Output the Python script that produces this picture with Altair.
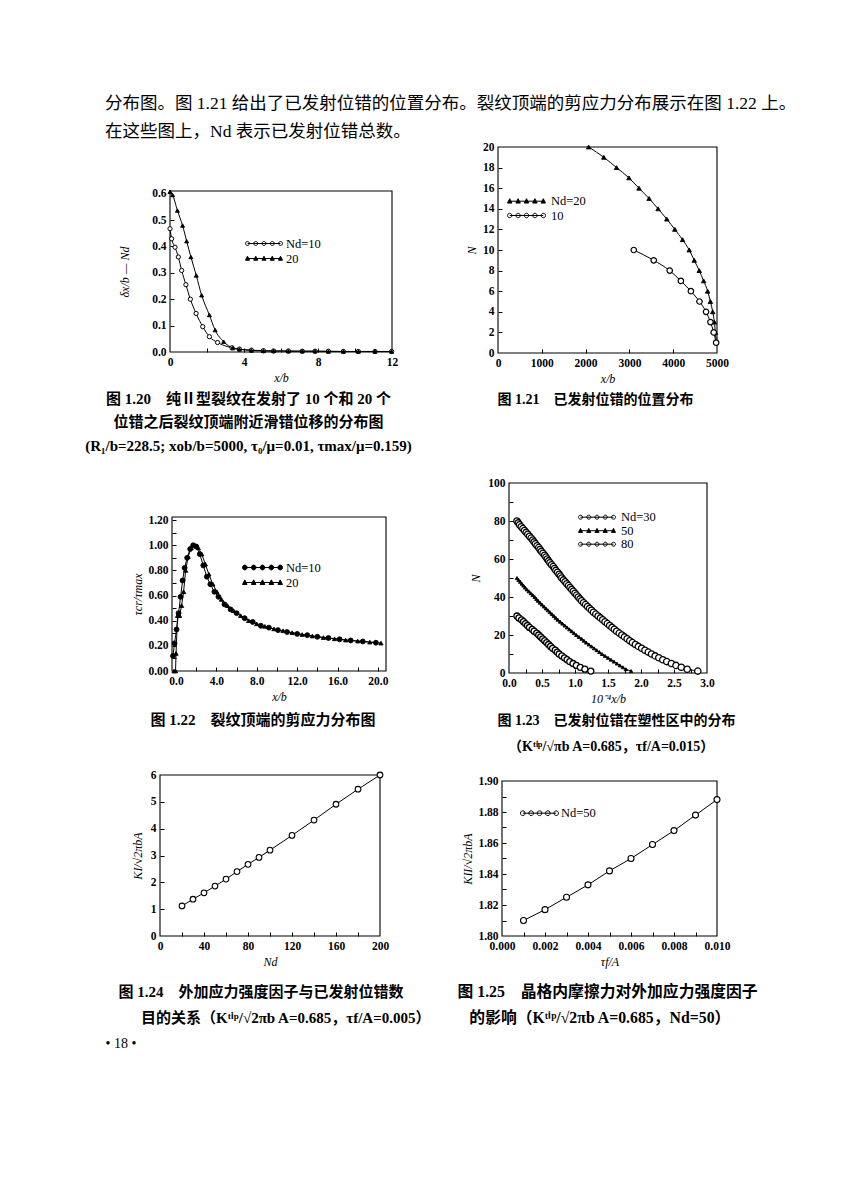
import altair as alt
import pandas as pd

W, H = 844, 1188
SERIF = "Liberation Serif"
MIXED = "Liberation Serif, Noto Sans CJK SC"
NB = "\u00a0"
ZW = "\u200b"
FW = "\u3000"

# ---------------- text ----------------
para_lines = ["分布图。图 1.21 给出了已发射位错的位置分布。裂纹顶端的剪应力分布展示在图 1.22 上。",
              "在这些图上，Nd 表示已发射位错总数。"]
cap120 = ["图 1.20　纯Ⅱ型裂纹在发射了 10 个和 20 个",
          "位错之后裂纹顶端附近滑错位移的分布图",
          "(R₁/b=228.5; xob/b=5000, τ₀/μ=0.01, τmax/μ=0.159)"]
cap121 = ["图 1.21　已发射位错的位置分布"]
cap122 = ["图 1.22　裂纹顶端的剪应力分布图"]
cap123 = ["图 1.23　已发射位错在塑性区中的分布",
          ZW + NB * 3 + "（Kᵗⁱᵖ/√πb A=0.685，τf/A=0.015）"]
cap124 = ["图 1.24　外加应力强度因子与已发射位错数",
          ZW + FW + NB * 2 + "目的关系（Kᵗⁱᵖ/√2πb A=0.685，τf/A=0.005）"]
cap125 = ["图 1.25　晶格内摩擦力对外加应力强度因子",
          ZW + NB * 3 + "的影响（Kᵗⁱᵖ/√2πb A=0.685，Nd=50）"]
page_no = "• 18 •"

# ---------------- data ----------------
# Fig 1.20  slip displacement vs x/b
f20_nd10_x = [0.0, 0.09, 0.27, 0.45, 0.63, 0.86, 1.10, 1.41, 1.77, 2.13, 2.57, 3.35, 3.75, 4.40,
              5.05, 5.60, 6.40, 7.15, 7.84, 8.56, 9.37, 10.18, 11.08, 11.98]
f20_nd10_y = [0.467, 0.429, 0.397, 0.360, 0.309, 0.255, 0.200, 0.146, 0.096, 0.058, 0.036, 0.016,
              0.011, 0.007, 0.005, 0.004, 0.004, 0.003, 0.003, 0.003, 0.002, 0.002, 0.002, 0.002]
f20_nd20_x = [0.0, 0.14, 0.40, 0.68, 0.90, 1.13, 1.42, 1.71, 2.13, 2.44, 2.90, 3.40, 3.75, 4.40,
              5.05, 5.60, 6.40, 7.15, 7.84, 8.56, 9.37, 10.18, 11.08, 11.98]
f20_nd20_y = [0.607, 0.595, 0.536, 0.479, 0.420, 0.360, 0.290, 0.215, 0.140, 0.083, 0.039, 0.015,
              0.010, 0.006, 0.004, 0.004, 0.003, 0.003, 0.003, 0.002, 0.002, 0.002, 0.002, 0.002]

# Fig 1.21  dislocation positions
f21_nd20_x = [2070, 2416, 2707, 2990, 3219, 3449, 3655, 3854, 4037, 4214, 4366, 4480, 4595, 4695,
              4787, 4849, 4902, 4940, 4963, 4985]
f21_nd20_n = [20, 19, 18, 17, 16, 15, 14, 13, 12, 11, 10, 9, 8, 7, 6, 5, 4, 3, 2, 1]
f21_nd10_x = [3100, 3555, 3920, 4175, 4404, 4600, 4750, 4850, 4925, 4980]
f21_nd10_n = [10, 9, 8, 7, 6, 5, 4, 3, 2, 1]

# Fig 1.22  shear stress at crack tip
f22_nd10_x = [-0.30, -0.15, 0.05, 0.25, 0.45, 0.65, 0.85, 1.10, 1.40, 1.70, 2.00, 2.35, 2.70, 3.05,
              3.40, 3.80, 4.20, 4.80, 5.40, 6.00, 6.80, 7.60, 8.40, 9.20, 10.10, 11.00, 12.00, 13.00,
              14.00, 15.10, 16.20, 17.30, 18.50, 19.80]
f22_nd10_y = [0.12, 0.22, 0.33, 0.46, 0.59, 0.72, 0.82, 0.90, 0.97, 1.00, 0.99, 0.93, 0.84, 0.75,
              0.69, 0.63, 0.59, 0.53, 0.49, 0.46, 0.42, 0.39, 0.36, 0.345, 0.325, 0.31, 0.295, 0.285,
              0.272, 0.262, 0.252, 0.243, 0.235, 0.225]
f22_nd20_x = [-0.20, -0.05, 0.00, 0.15, 0.35, 0.55, 0.75, 0.95, 1.20, 1.50, 1.85, 2.20, 2.55, 2.90,
              3.25, 3.65, 4.05, 4.50, 5.10, 5.70, 6.40, 7.20, 8.00, 8.80, 9.70, 10.60, 11.50, 12.50,
              13.50, 14.60, 15.70, 16.80, 18.00, 19.20, 20.30]
f22_nd20_y = [0.00, 0.00, 0.14, 0.44, 0.44, 0.52, 0.63, 0.80, 0.91, 0.98, 1.00, 0.98, 0.93, 0.85,
              0.77, 0.69, 0.63, 0.57, 0.52, 0.48, 0.44, 0.40, 0.375, 0.355, 0.335, 0.32, 0.305, 0.29,
              0.278, 0.266, 0.256, 0.246, 0.238, 0.23, 0.222]

# Fig 1.23  dislocations in plastic zone (one marker per dislocation)
f23_nd30_x = [0.12, 0.15, 0.19, 0.22, 0.25, 0.28, 0.31, 0.35, 0.38, 0.42, 0.45, 0.48, 0.51, 0.54,
              0.57, 0.60, 0.63, 0.66, 0.70, 0.73, 0.76, 0.80, 0.84, 0.88, 0.92, 0.97, 1.02, 1.08,
              1.15, 1.24]
f23_nd30_n = [30, 29, 28, 27, 26, 25, 24, 23, 22, 21, 20, 19, 18, 17, 16, 15, 14, 13, 12, 11, 10, 9,
              8, 7, 6, 5, 4, 3, 2, 1]
f23_nd50_x = [0.12, 0.145, 0.17, 0.195, 0.22, 0.245, 0.27, 0.30, 0.33, 0.36, 0.39, 0.415, 0.44,
              0.47, 0.50, 0.53, 0.56, 0.59, 0.62, 0.65, 0.68, 0.71, 0.74, 0.775, 0.81, 0.845, 0.88,
              0.915, 0.95, 0.985, 1.02, 1.06, 1.10, 1.135, 1.17, 1.21, 1.25, 1.29, 1.33, 1.37, 1.41,
              1.455, 1.50, 1.545, 1.59, 1.635, 1.68, 1.725, 1.77, 1.85]
f23_nd50_n = [50, 49, 48, 47, 46, 45, 44, 43, 42, 41, 40, 39, 38, 37, 36, 35, 34, 33, 32, 31, 30, 29,
              28, 27, 26, 25, 24, 23, 22, 21, 20, 19, 18, 17, 16, 15, 14, 13, 12, 11, 10, 9, 8, 7, 6,
              5, 4, 3, 2, 1]
f23_nd80_x = [0.12, 0.14, 0.16, 0.185, 0.21, 0.235, 0.26, 0.285, 0.31, 0.335, 0.36, 0.38, 0.40,
              0.425, 0.45, 0.47, 0.49, 0.515, 0.54, 0.56, 0.58, 0.60, 0.62, 0.645, 0.67, 0.69, 0.71,
              0.735, 0.76, 0.78, 0.80, 0.825, 0.85, 0.875, 0.90, 0.925, 0.95, 0.975, 1.00, 1.025,
              1.05, 1.075, 1.10, 1.13, 1.16, 1.19, 1.22, 1.25, 1.28, 1.315, 1.35, 1.385, 1.42, 1.455,
              1.49, 1.525, 1.56, 1.595, 1.63, 1.67, 1.71, 1.75, 1.79, 1.83, 1.87, 1.915, 1.96, 2.01,
              2.06, 2.11, 2.16, 2.215, 2.27, 2.33, 2.39, 2.46, 2.53, 2.61, 2.70, 2.86]
f23_nd80_n = [80, 79, 78, 77, 76, 75, 74, 73, 72, 71, 70, 69, 68, 67, 66, 65, 64, 63, 62, 61, 60, 59,
              58, 57, 56, 55, 54, 53, 52, 51, 50, 49, 48, 47, 46, 45, 44, 43, 42, 41, 40, 39, 38, 37,
              36, 35, 34, 33, 32, 31, 30, 29, 28, 27, 26, 25, 24, 23, 22, 21, 20, 19, 18, 17, 16, 15,
              14, 13, 12, 11, 10, 9, 8, 7, 6, 5, 4, 3, 2, 1]

# Fig 1.24  applied SIF vs number of dislocations
f24_nd = [20, 30, 40, 50, 60, 70, 80, 90, 100, 120, 140, 160, 180, 200]
f24_k = [1.12, 1.37, 1.61, 1.86, 2.12, 2.40, 2.67, 2.93, 3.20, 3.75, 4.32, 4.91, 5.47, 6.00]

# Fig 1.25  effect of lattice friction
f25_tau = [0.001, 0.002, 0.003, 0.004, 0.005, 0.006, 0.007, 0.008, 0.009, 0.010]
f25_k = [1.810, 1.817, 1.825, 1.833, 1.842, 1.850, 1.859, 1.868, 1.878, 1.888]


def build_df(series):
    rows = []
    for name, xs, ys in series:
        for a, b in zip(xs, ys):
            rows.append({"series": name, "x": a, "y": b})
    return pd.DataFrame(rows)


def legend_path(kind, s, length, r, n=5):
    u = s / 2.0
    cs = [(r + i * (length - 2 * r) / (n - 1) - s / 2.0) / u for i in range(n)]
    ru = r / u
    parts = ["M%.3f,0L%.3f,0" % (cs[0], cs[-1])]
    for c in cs:
        if kind == "tri":
            parts.append("M%.3f,%.3fL%.3f,%.3fL%.3f,%.3fZ" % (c, -1.15 * ru, c + ru, 0.85 * ru, c - ru, 0.85 * ru))
        else:
            parts.append("M%.3f,0A%.3f,%.3f 0 1,1 %.3f,0A%.3f,%.3f 0 1,1 %.3f,0Z" % (c + ru, ru, ru, c - ru, ru, ru, c + ru))
    return "".join(parts)


def label_expr(mapping):
    expr = "datum.label"
    for k, v in reversed(list(mapping.items())):
        expr = "datum.label == '%s' ? '%s' : (%s)" % (k, v, expr)
    return expr


SHAPES = {"open": ("circle", "white"), "dot": ("circle", "black"), "tri": ("triangle-up", "black")}


def make_panel(cfg):
    x0, x1, y0, y1 = cfg["rect"]
    xs = alt.Scale(domain=cfg["xdom"], range=[x0, x1], nice=False, zero=False)
    ys = alt.Scale(domain=cfg["ydom"], range=[y1, y0], nice=False, zero=False)
    df = cfg["df"]
    layers = []

    # frame + inward ticks + caption
    fr = pd.DataFrame({"x": [cfg["xdom"][0]], "x2": [cfg["xdom"][1]],
                       "y": [cfg["ydom"][0]], "y2": [cfg["ydom"][1]]})
    xt = alt.Axis(orient="top", offset=-y1, values=cfg["xminor"], labels=False, domain=False,
                  ticks=True, tickSize=4, tickColor="black", tickWidth=1, grid=False,
                  title=cfg["caption"], titleX=cfg["capx"], titleY=cfg["capy"], titleAngle=0,
                  titleAlign=cfg.get("capalign", "left"), titleBaseline="alphabetic", titleFont=MIXED,
                  titleFontSize=cfg.get("capfs", 15), titleFontWeight="bold", titleLineHeight=cfg["caplh"],
                  titleColor="black")
    ykw = dict(orient="right", offset=x0 - W, values=cfg["yminor"], labels=False, domain=False,
               ticks=True, tickSize=4, tickColor="black", tickWidth=1, grid=False)
    if cfg.get("extra"):
        ykw.update(title=cfg["extra"], titleX=cfg["extrax"], titleY=cfg["extray"], titleAngle=0,
                   titleAlign="left", titleBaseline="alphabetic", titleFont=MIXED,
                   titleFontSize=14, titleFontWeight="normal", titleColor="black")
    else:
        ykw.update(title=None)
    yt = alt.Axis(**ykw)
    layers.append(alt.Chart(fr).mark_rect(fill="transparent", stroke="black", strokeWidth=1.1).encode(
        x=alt.X("x:Q", scale=xs, axis=xt), x2="x2:Q",
        y=alt.Y("y:Q", scale=ys, axis=yt), y2="y2:Q"))

    xl = alt.Axis(orient="bottom", offset=y1 - H, values=cfg["xvals"], format=cfg["xfmt"],
                  domain=False, ticks=False, tickSize=0, grid=False, labelFlush=False,
                  labelOverlap=False, labelFont=SERIF, labelFontSize=11.5, labelFontWeight="bold",
                  labelColor="black", labelPadding=4, title=cfg["xtitle"], titleFont=SERIF,
                  titleFontSize=12, titleFontStyle="italic", titleFontWeight="normal",
                  titleColor="black", titlePadding=cfg.get("xtpad", 5))
    yl = alt.Axis(orient="left", offset=-x0, values=cfg["yvals"], format=cfg["yfmt"],
                  domain=False, ticks=False, tickSize=0, grid=False, labelFlush=False,
                  labelOverlap=False, labelFont=SERIF, labelFontSize=11.5, labelFontWeight="bold",
                  labelColor="black", labelPadding=4, title=cfg["ytitle"], titleFont=SERIF,
                  titleFontSize=12, titleFontStyle="italic", titleFontWeight="normal",
                  titleColor="black", titlePadding=cfg.get("ytpad", 5))

    first = True
    for name, style, size, sw in cfg["series"]:
        shape, fill = SHAPES[style]
        sub = alt.Chart(df).transform_filter(alt.datum.series == name)
        layers.append(sub.mark_line(color="black", strokeWidth=1, interpolate=cfg["interp"]).encode(
            x=alt.X("x:Q", scale=xs, axis=xl if first else None),
            y=alt.Y("y:Q", scale=ys, axis=yl if first else None)))
        first = False
        layers.append(sub.mark_point(shape=shape, filled=True, fill=fill, stroke="black",
                                     strokeWidth=sw, size=size, opacity=1).encode(
            x=alt.X("x:Q", scale=xs, axis=None), y=alt.Y("y:Q", scale=ys, axis=None)))

    if cfg.get("legend"):
        lg = cfg["legend"]
        names = [s[0] for s in cfg["series"]]
        styles = [s[1] for s in cfg["series"]]
        paths = [legend_path("tri" if st == "tri" else "circ", lg["s"], lg["L"], lg["r"]) for st in styles]
        fills = [SHAPES[st][1] for st in styles]
        L = alt.Legend(orient="none", legendX=lg["x"], legendY=lg["y"], title=None,
                       labelExpr=label_expr(lg["labels"]), symbolSize=lg["s"] * lg["s"],
                       symbolStrokeWidth=1, symbolOpacity=1, labelFont=SERIF, labelFontSize=12.5,
                       labelColor="black", labelOffset=lg["lo"], rowPadding=lg["rp"], padding=0)
        layers.append(alt.Chart(df).transform_filter("false").mark_point(filled=True, opacity=1).encode(
            shape=alt.Shape("series:N", scale=alt.Scale(domain=names, range=paths), legend=L),
            fill=alt.Fill("series:N", scale=alt.Scale(domain=names, range=fills), legend=L),
            stroke=alt.Stroke("series:N", scale=alt.Scale(domain=names, range=["black"] * len(names)), legend=L)))

    return alt.layer(*layers).resolve_axis(x="independent", y="independent")


pad20 = NB * 7
panels = [
    dict(rect=(162, 384, 183, 344), xdom=[0, 12], ydom=[0, 0.61],
         df=build_df([("10", f20_nd10_x, f20_nd10_y), ("20", f20_nd20_x, f20_nd20_y)]),
         series=[("10", "open", 18, 1.0), ("20", "tri", 16, 0.9)], interp="monotone",
         xvals=[0, 4, 8, 12], xfmt="d", yvals=[0, 0.1, 0.2, 0.3, 0.4, 0.5, 0.6], yfmt=".1f",
         xminor=[2, 4, 6, 8, 10], yminor=[0.1, 0.2, 0.3, 0.4, 0.5],
         xtitle="x/b", ytitle="δx/b — Nd", ytpad=20,
         caption=cap120, capx=240, capy=51, caplh=23.5, capalign="center",
         legend=dict(x=237, y=227, s=16, L=37, r=2, lo=24, rp=0,
                     labels={"10": "Nd=10", "20": pad20 + "20"})),
    dict(rect=(490, 709, 139, 345), xdom=[0, 5000], ydom=[0, 20],
         df=build_df([("20", f21_nd20_x, f21_nd20_n), ("10", f21_nd10_x, f21_nd10_n)]),
         series=[("20", "tri", 20, 0.9), ("10", "open", 30, 1.2)], interp="monotone",
         xvals=[0, 1000, 2000, 3000, 4000, 5000], xfmt="d", yvals=list(range(0, 21, 2)), yfmt="d",
         xminor=[1000, 2000, 3000, 4000], yminor=list(range(2, 20, 2)),
         xtitle="x/b", ytitle="N", ytpad=4,
         caption=cap121, capx=489, capy=50, caplh=24, capfs=14,
         legend=dict(x=499, y=185.7, s=14, L=38, r=2.2, lo=29, rp=0.3,
                     labels={"20": "Nd=20", "10": pad20 + "10"})),
    dict(rect=(164, 378, 509, 663), xdom=[-0.4, 20.8], ydom=[0, 1.225],
         df=build_df([("10", f22_nd10_x, f22_nd10_y), ("20", f22_nd20_x, f22_nd20_y)]),
         series=[("10", "dot", 24, 0.9), ("20", "tri", 18, 0.9)], interp="linear",
         xvals=[0, 4, 8, 12, 16, 20], xfmt=".1f", yvals=[0, 0.2, 0.4, 0.6, 0.8, 1.0, 1.2], yfmt=".2f",
         xminor=[2, 4, 6, 8, 10, 12, 14, 16, 18, 20], yminor=[0.1, 0.2, 0.3, 0.4, 0.5, 0.6, 0.7, 0.8, 0.9, 1.0, 1.1, 1.2],
         xtitle="x/b", ytitle="τcr/τmax", ytpad=3,
         caption=cap122, capx=142, capy=53, caplh=24,
         legend=dict(x=234, y=551.5, s=15, L=40, r=2.3, lo=28, rp=0,
                     labels={"10": "Nd=10", "20": pad20 + "20"})),
    dict(rect=(501, 699, 475, 665), xdom=[0, 3], ydom=[0, 100],
         df=build_df([("30", f23_nd30_x, f23_nd30_n), ("50", f23_nd50_x, f23_nd50_n),
                      ("80", f23_nd80_x, f23_nd80_n)]),
         series=[("30", "open", 36, 1.3), ("50", "tri", 12, 0.9), ("80", "open", 40, 1.3)], interp="linear",
         xvals=[0, 0.5, 1.0, 1.5, 2.0, 2.5, 3.0], xfmt=".1f", yvals=[0, 20, 40, 60, 80, 100], yfmt="d",
         xminor=[0.25, 0.5, 0.75, 1.0, 1.25, 1.5, 1.75, 2.0, 2.25, 2.5, 2.75], yminor=[10, 20, 30, 40, 50, 60, 70, 80, 90],
         xtitle="10⁻⁴x/b", ytitle="N", ytpad=5,
         caption=cap123, capx=489, capy=51, caplh=26, capfs=14,
         legend=dict(x=570, y=502.7, s=12, L=37, r=2, lo=30, rp=0.5,
                     labels={"30": "Nd=30", "50": pad20 + "50", "80": pad20 + "80"})),
    dict(rect=(152, 372, 767, 928), xdom=[0, 200], ydom=[0, 6],
         df=build_df([("k", f24_nd, f24_k)]),
         series=[("k", "open", 32, 1.1)], interp="linear",
         xvals=[0, 40, 80, 120, 160, 200], xfmt="d", yvals=[0, 1, 2, 3, 4, 5, 6], yfmt="d",
         xminor=[20, 40, 60, 80, 100, 120, 140, 160, 180], yminor=[1, 2, 3, 4, 5],
         xtitle="Nd", ytitle="KI/√2πbA", ytpad=6,
         caption=cap124, capx=110, capy=60, caplh=26,
         extra=page_no, extrax=-55, extray=1039),
    dict(rect=(494, 709, 773, 928), xdom=[0, 0.010], ydom=[1.80, 1.90],
         df=build_df([("50", f25_tau, f25_k)]),
         series=[("50", "open", 36, 1.1)], interp="linear",
         xvals=[0, 0.002, 0.004, 0.006, 0.008, 0.010], xfmt=".3f",
         yvals=[1.80, 1.82, 1.84, 1.86, 1.88, 1.90], yfmt=".2f",
         xminor=[0.001, 0.002, 0.003, 0.004, 0.005, 0.006, 0.007, 0.008, 0.009],
         yminor=[1.81, 1.82, 1.83, 1.84, 1.85, 1.86, 1.87, 1.88, 1.89],
         xtitle="τf/A", ytitle="KII/√2πbA", ytpad=3,
         caption=cap125, capx=449, capy=60, caplh=26, capfs=15.8,
         legend=dict(x=512, y=797.7, s=14, L=38, r=2.3, lo=26, rp=0,
                     labels={"50": "Nd=50"})),
]

chart = alt.layer(*[make_panel(p) for p in panels]).resolve_scale(
    x="independent", y="independent", shape="independent", fill="independent", stroke="independent"
).properties(
    width=W, height=H, padding=0, autosize=alt.AutoSizeParams(type="none"),
    title=alt.TitleParams(text=para_lines, anchor="start", frame="group", orient="top", offset=0,
                          dx=97, dy=146.5, baseline="alphabetic", lineHeight=28, font=MIXED,
                          fontSize=17.5, fontWeight="normal", color="black"),
    background="white",
).configure_view(strokeOpacity=0).configure_axis(grid=False)

chart.save("out.html", embed_options={"renderer": "svg", "actions": False})
